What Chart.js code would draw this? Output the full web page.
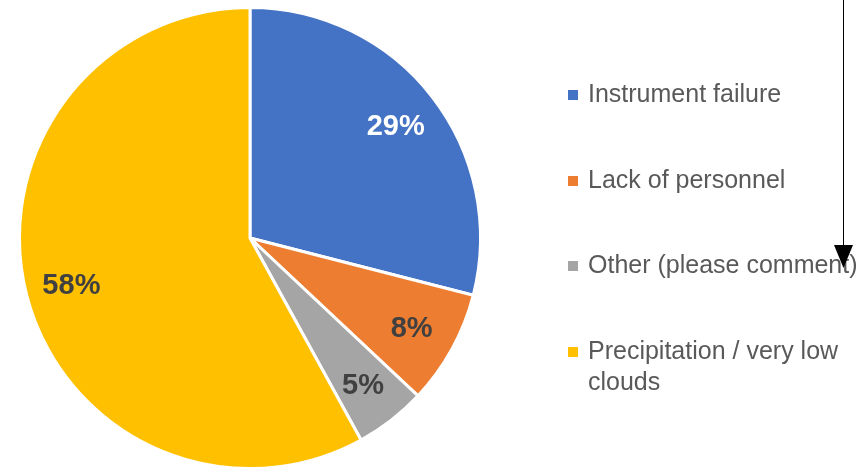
<!DOCTYPE html>
<html>
<head>
<meta charset="utf-8">
<script src="https://cdn.jsdelivr.net/npm/chart.js@4"></script>
<style>
  html, body { margin: 0; padding: 0; background: #fff; }
  #wrap { width: 865px; height: 472px; }
</style>
</head>
<body>
<div id="wrap"><canvas id="chart" width="865" height="472"></canvas></div>
<script>
/* ---------- Données ---------- */
const categories = ["Instrument failure", "Lack of personnel", "Other (please comment)", "Precipitation / very low clouds"];
const legendLines = [["Instrument failure"], ["Lack of personnel"], ["Other (please comment)"], ["Precipitation / very low", "clouds"]];
const shares = [29, 8, 5, 58];
const sliceColors = ["#4472C4", "#ED7D31", "#A5A5A5", "#FFC000"];
const labelColors = ["#FFFFFF", "#404040", "#404040", "#404040"];

/* ---------- Étiquettes de pourcentage ---------- */
const pctLabels = {
    id: "pctLabels",
    afterDatasetsDraw(chart) {
        const ctx = chart.ctx;
        const meta = chart.getDatasetMeta(0);
        ctx.save();
        ctx.font = "bold 29px 'Liberation Sans', Arial, sans-serif";
        ctx.textAlign = "center";
        ctx.textBaseline = "middle";
        meta.data.forEach((arc, i) => {
            const mid = (arc.startAngle + arc.endAngle) / 2;
            const r = arc.outerRadius * 0.8;
            ctx.fillStyle = labelColors[i];
            ctx.fillText(shares[i] + "%", arc.x + Math.cos(mid) * r, arc.y + Math.sin(mid) * r + 2);
        });
        ctx.restore();
    }
};

/* ---------- Légende à droite ---------- */
const sideLegend = {
    id: "sideLegend",
    afterDraw(chart) {
        const ctx = chart.ctx;
        ctx.save();
        ctx.font = "25px 'Liberation Sans', Arial, sans-serif";
        ctx.textBaseline = "middle";
        const rows = [95, 181, 266, 352];
        legendLines.forEach((lines, i) => {
            ctx.fillStyle = sliceColors[i];
            ctx.fillRect(568, rows[i] - 5, 10, 10);
            ctx.fillStyle = "#595959";
            lines.forEach((t, j) => ctx.fillText(t, 588, rows[i] + j * 31));
        });

        // flèche d'annotation
        ctx.strokeStyle = "#000";
        ctx.lineWidth = 1;
        ctx.beginPath();
        ctx.moveTo(843.5, 0);
        ctx.lineTo(843.5, 248);
        ctx.stroke();
        ctx.fillStyle = "#000";
        ctx.beginPath();
        ctx.moveTo(834, 245);
        ctx.lineTo(853, 245);
        ctx.lineTo(843.5, 268);
        ctx.closePath();
        ctx.fill();
        ctx.restore();
    }
};

new Chart(document.getElementById("chart"), {
    type: "pie",
    data: {
        labels: categories,
        datasets: [{
            data: shares,
            backgroundColor: sliceColors,
            borderColor: "#FFFFFF",
            borderWidth: 3
        }]
    },
    options: {
        responsive: false,
        animation: false,
        layout: { padding: { left: 18, right: 383, top: 5, bottom: 1 } },
        plugins: {
            legend: { display: false },
            tooltip: { enabled: false }
        }
    },
    plugins: [pctLabels, sideLegend]
});
</script>
</body>
</html>
